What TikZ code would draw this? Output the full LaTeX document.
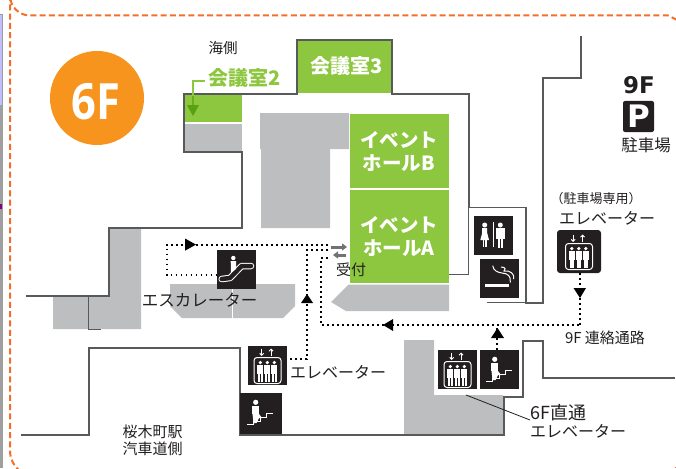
\documentclass[tikz,border=0pt]{standalone}
\usepackage{fontspec}
\usetikzlibrary{arrows.meta}
\setmainfont{Noto Sans CJK JP}
\newfontfamily\heavyjp{Noto Sans CJK JP Black}
\newfontfamily\latinbold{Open Sans}[BoldFont={Open Sans Bold}]
\newfontfamily\widebold{DejaVu Sans}[BoldFont={DejaVu Sans Bold}]
\newcommand{\fsz}[1]{\fontsize{#1}{#1}\selectfont}
\definecolor{wallgray}{HTML}{58595B}
\definecolor{blockgray}{HTML}{BCBEC0}
\definecolor{roomgreen}{HTML}{8DC63F}
\definecolor{darkgreen}{HTML}{5AA112}
\definecolor{dashorange}{HTML}{F26F2B}
\definecolor{badgeorange}{HTML}{F7941E}
\definecolor{iconblack}{HTML}{231F20}
\tikzset{
  wall/.style={draw=wallgray, line width=2.5pt, miter limit=4},
  thinwall/.style={draw=wallgray, line width=1pt},
  route/.style={draw=black, line width=2.2pt, dash pattern=on 1.8pt off 3.2pt},
  iconbox/.style={fill=iconblack, minimum size=39pt, inner sep=0pt},
  label/.style={text=iconblack, inner sep=0pt},
  roomtext/.style={text=white, font=\heavyjp\fsz{19.5}, inner sep=0pt, align=center},
  iconline/.style={draw=white, line width=1pt},
  receptarrow/.style={draw=wallgray!85, line width=3pt, -{Triangle[length=5pt,width=7pt]}}
}
% one figure of a lift
\newcommand{\liftman}[1]{
  \fill[white] (#1,16.6) circle (1.8);
  \fill[white] (#1-3,19.2) rectangle (#1+3,28);
  \fill[white] (#1-2.2,28) rectangle (#1-0.3,35.5);
  \fill[white] (#1+0.3,28) rectangle (#1+2.2,35.5);
}
\newcommand{\lifticon}[1]{
  \begin{scope}[shift={(#1)}]
    \draw[iconline, rounded corners=3pt] (6,11.5) rectangle (33,37.5);
    \liftman{12.3} \liftman{19.3} \liftman{26.3}
    \draw[iconline, -{Straight Barb[length=2pt,width=4pt]}] (13.7,2.5) -- (13.7,10);
    \draw[iconline, -{Straight Barb[length=2pt,width=4pt]}] (23,10) -- (23,2.5);
  \end{scope}
}
\newcommand{\stairicon}[1]{
  \begin{scope}[shift={(#1)}]
    \fill[white] (14.7,9.3) circle (2.6);
    \fill[white] (11,12.5) rectangle (18,21);
    \fill[white] (11.5,21) -- (18,21) -- (21,25) -- (18,25) -- (15.5,30) -- (12.5,30) -- cycle;
    \draw[iconline] (6.3,31.7) -- (12,31.7) -- (12,28) -- (19,28) -- (19,24.3) -- (25.5,24.3) -- (25.5,20) -- (32,20);
  \end{scope}
}

\begin{document}
\begin{tikzpicture}[x=1pt, y=-1pt]
    \useasboundingbox (0,0) rectangle (676,468);

    % Edge of the page
    \fill[gray!75] (0,14) rectangle (3,468);
    \fill[blue!25] (0,15) rectangle (2,105);
    \fill[violet] (0,204) rectangle (2,209);

    % Dashed frame
    \draw[dashorange, line width=2pt, dash pattern=on 6pt off 3.3pt]
        (677,20) -- (668,15.5) -- (30,15.5) arc (90:180:20) -- (10,450) .. controls (10,460) and (14,466) .. (22,473);
    \fill[dashorange] (674.5,466.5) rectangle (676,468);

    % Floor number
    \node (badge) [circle, fill=badgeorange, minimum size=94pt, inner sep=0pt] at (97,98) {};
    \node (floorno) [text=white, font=\latinbold\fsz{50}\bfseries, inner sep=0pt, xscale=0.87] at (96,102) {6F};

    % Grey blocks
    \fill[blockgray] (110,229) -- (141,229) -- (141,329) -- (53,329) -- (53,297) -- (110,297) -- cycle;
    \fill[blockgray] (170,284) -- (295,284) -- (295,306) -- (283,318) -- (182,318) -- (170,306) -- cycle;
    \draw[white, line width=0.4pt] (232.5,284) -- (232.5,318);
    \fill[blockgray] (260,113) -- (349,113) -- (349,149) -- (330,149) -- (330,228) -- (261,228) -- (261,149) -- (260,149) -- cycle;
    \fill[blockgray] (184,123.5) rectangle (242,151);
    \fill[blockgray] (348.5,284.5) -- (449,284.5) -- (449,311) -- (346,311) -- (331,302) -- cycle;
    \fill[blockgray] (404,340) -- (434,340) -- (434,395) -- (503,395) -- (503,434) -- (404,434) -- cycle;

    % Rooms
    \fill[roomgreen] (184,94) rectangle (242,122);
    \fill[roomgreen] (298,41) rectangle (391,93);
    \fill[roomgreen] (350,114) rectangle (449,188);
    \fill[roomgreen] (350,190) rectangle (449,283);
    \node (roomthree) [roomtext, font=\fsz{20}\bfseries] at (347,66) {会議室3};
    \node (hallb) [roomtext] at (399,151.5) {イベント\\[3.5pt]ホールB};
    \node (halla) [roomtext] at (399,236.5) {イベント\\[3.5pt]ホールA};

    % Outer walls
    \draw[wall] (26,296) -- (109,296) -- (109,228) -- (242,228) -- (242,152) -- (184,152) -- (184,94) -- (297,94) -- (297,40) -- (392,40) -- (392,94) -- (469,94) -- (469,208);
    \draw[wallgray, line width=1.8pt] (468,207.5) -- (526,207.5) -- (526,303);
    \draw[wall] (525,303) -- (543,303) -- (543,78) -- (581,78) -- (581,36);
    \draw[wall] (21,435) -- (89,435) -- (89,348) -- (240,348) -- (240,435) -- (504,435) -- (504,397) -- (523,397) -- (523,341) -- (543,341) -- (543,378) -- (675,378);
    \draw[thinwall] (88.5,296) -- (88.5,329) -- (101,329);
    \draw[thinwall] (449,274) -- (468,274) -- (468,208);
    \draw[thinwall] (487,302.5) -- (525,302.5);

    % Room 2 label and pointer
    \node (sea) [label, font=\fsz{14.5}] at (223,48) {海側};
    \node (roomtwo) [text=roomgreen, font=\fsz{20}\bfseries, inner sep=0pt] at (245,78) {会議室2};
    \coordinate (pointer) at (193,96);
    \draw[roomgreen, line width=1.5pt] (roomtwo.west |- 0,81) ++(-4,0) -- (193,81) -- (pointer);
    \draw[darkgreen!70!roomgreen, line width=1.5pt] (pointer) -- (193,106);
    \fill[darkgreen] (187,105) -- (199,105) -- (193,116) -- cycle;

    % Icons
    \node (escal) [iconbox] at (236.5,269.5) {};
    \begin{scope}[shift={(217,250)}]
        \draw[white, line width=6.5pt, line cap=round, line join=round] (4.7,29) -- (13,28) -- (24.7,16) -- (34,16);
        \draw[iconblack, line width=4.5pt, line cap=round, line join=round] (4.7,29) -- (13,28) -- (24.7,16) -- (34,16);
        \fill[white] (16.3,8) circle (2.2);
        \fill[white] (13.7,11) -- (19,11) -- (19,19) -- (14,23) -- cycle;
    \end{scope}
    \node (liftleft) [iconbox] at (267.5,365.5) {};
    \lifticon{248,346}
    \node (stairleft) [iconbox, minimum width=42pt, minimum height=41pt] at (261,413.5) {};
    \stairicon{241,393}
    \node (liftmid) [iconbox] at (457.5,369.5) {};
    \lifticon{438,350}
    \node (stairmid) [iconbox] at (499.5,369.5) {};
    \stairicon{480,350}
    \node (liftright) [iconbox, rounded corners=3pt, minimum width=44pt, minimum height=43pt] at (579,251.5) {};
    \lifticon{559.5,232}
    \node (toilet) [iconbox] at (493.5,235.5) {};
    \begin{scope}[shift={(474,216)}]
        \fill[white] (10.7,9) circle (2.5);
        \fill[white] (8.2,12) -- (13.2,12) -- (13.2,17) -- (15,24) -- (6.3,24) -- (8.2,17) -- cycle;
        \fill[white] (8.6,24) rectangle (10.2,31);
        \fill[white] (11.2,24) rectangle (12.8,31);
        \draw[iconline] (19.7,6) -- (19.7,31);
        \fill[white] (26.3,9) circle (2.5);
        \fill[white] (22.3,12) rectangle (30.7,23);
        \fill[white] (24,23) rectangle (25.9,32);
        \fill[white] (26.8,23) rectangle (28.7,32);
    \end{scope}
    \node (smoking) [iconbox] at (499.5,278.5) {};
    \begin{scope}[shift={(480,259)}]
        \fill[white] (4.7,25) rectangle (28.7,27.7);
        \draw[iconline] (12.7,6.7) .. controls (13.5,12) and (18,13.5) .. (22,14) .. controls (28,14.5) and (31,17) .. (30.3,23.5);
        \draw[iconline] (21,8) .. controls (26,8) and (26,11) .. (24,12) .. controls (30,11) and (35,15) .. (33.5,20);
    \end{scope}
    \node (parking) [iconbox, rounded corners=2pt, minimum size=31pt] at (638.5,116.5) {};
    \node (parkp) [text=white, font=\widebold\fsz{31}\bfseries, inner sep=0pt] at (638.5,116.5) {P};

    % Labels
    \node (nine) [label, font=\widebold\fsz{23}\bfseries] at (639,85) {9F};
    \node (parklabel) [label, font=\fsz{16.5}] at (646,145) {駐車場};
    \node (liftonly) [label, font=\fsz{13}] at (596,199) {（駐車場専用）};
    \node (liftrightlabel) [label, font=\fsz{16}] at (607,218) {エレベーター};
    \node (escallabel) [label, font=\fsz{16.5}] at (199.5,300) {エスカレーター};
    \node (liftleftlabel) [label, font=\fsz{16}] at (338,372) {エレベーター};
    \node (recept) [label, font=\fsz{15}] at (351,270) {受付};
    \node (linkway) [label, font=\fsz{15}] at (605,338) {9F 連絡通路};
    \node (sixf) [label, font=\fsz{18}, anchor=west] at (530,413) {6F直通};
    \node (liftmidlabel) [label, font=\fsz{16}] at (578,431) {エレベーター};
    \node (stationa) [label, font=\fsz{15}] at (152.5,432) {桜木町駅};
    \node (stationb) [label, font=\fsz{15}] at (152.5,449) {汽車道側};
    \draw[iconblack, line width=0.8pt] (466,395) -- (sixf.west |- 0,420);

    % Routes
    \coordinate (gatea) at (328,244.6);
    \coordinate (gateb) at (328,250);
    \coordinate (gatec) at (328,258);
    \coordinate (linkend) at (580,325);
    \draw[route] (gatea) -- (167,244.6) -- (167,275) -- (escal.west |- 0,275);
    \draw[route] (gateb) -- (307,250) -- (307,359) -- (liftleft.east |- 0,359);
    \draw[route] (gatec) -- (321,258) -- (321,325) -- (linkend);
    \draw[route] (linkend) -- (liftright.south -| linkend);
    \draw[route] (stairmid.north -| 497,0) -- (497,325);

    % Route heads
    \fill[black] (185,238.5) -- (196,244.6) -- (185,250.7) -- cycle;
    \fill[black] (301,303) -- (307,294) -- (313,303) -- cycle;
    \fill[black] (393,319) -- (383,325) -- (393,331) -- cycle;
    \fill[black] (573.5,288) -- (580,298) -- (586,288) -- cycle;
    \fill[black] (491,338) -- (497.5,328) -- (504,338) -- cycle;

    % Reception arrows
    \draw[receptarrow] (331,247) -- (347,247);
    \draw[receptarrow] (346,255) -- (333,255);
\end{tikzpicture}
\end{document}
